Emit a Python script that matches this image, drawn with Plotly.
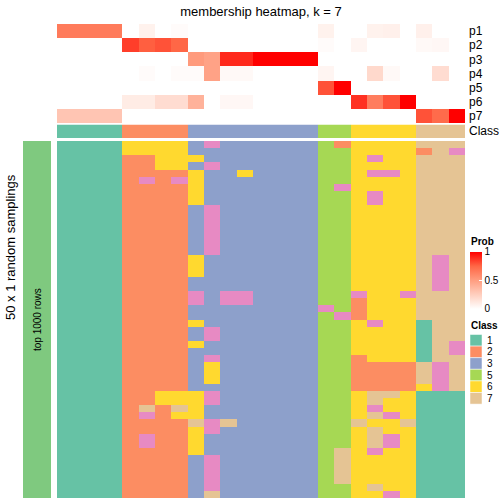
import plotly.graph_objects as go

# ---------------- data ----------------
columns = list(range(25))
prob_rows = ["p1", "p2", "p3", "p4", "p5", "p6", "p7"]
p1 = [0.66, 0.66, 0.66, 0.66, 0, 0.07, 0, 0.02, 0, 0, 0, 0, 0, 0, 0, 0, 0.07, 0, 0, 0.07, 0.08, 0, 0.08, 0, 0]
p2 = [0, 0, 0, 0, 0.85, 0.77, 0.8, 0.75, 0, 0, 0, 0, 0, 0, 0, 0, 0.02, 0, 0.05, 0, 0, 0, 0.03, 0.04, 0]
p3 = [0, 0, 0, 0, 0, 0, 0, 0, 0.52, 0.48, 0.9, 0.9, 1, 1, 1, 1, 0, 0, 0, 0, 0, 0, 0, 0, 0]
p4 = [0, 0, 0, 0, 0, 0.02, 0, 0.02, 0.02, 0.48, 0.03, 0.03, 0, 0, 0, 0, 0.05, 0, 0, 0.2, 0.03, 0, 0, 0.18, 0]
p5 = [0, 0, 0, 0, 0, 0, 0, 0, 0, 0, 0, 0, 0, 0, 0, 0, 0.8, 1, 0, 0, 0, 0, 0, 0, 0]
p6 = [0, 0, 0, 0, 0.1, 0.1, 0.18, 0.18, 0.4, 0, 0.04, 0.04, 0, 0, 0, 0, 0, 0, 0.88, 0.65, 0.8, 1, 0, 0, 0]
p7 = [0.3, 0.3, 0.3, 0.3, 0, 0, 0, 0, 0, 0, 0, 0, 0, 0, 0, 0, 0, 0, 0, 0, 0, 0, 0.8, 0.73, 1]

class_row = [1, 1, 1, 1, 2, 2, 2, 2, 3, 3, 3, 3, 3, 3, 3, 3, 5, 5, 6, 6, 6, 6, 7, 7, 7]

# 50 random samplings x 25 columns, class labels per cell
samplings = [
    "1111666634333333526666777",
    "1111666633333333556666274",
    "1111226663333333556466777",
    "1111226634333333556666777",
    "1111222263363333556446777",
    "1111242463333333556666777",
    "1111222263333333546666777",
    "1111222263333333556466777",
    "1111222263333333556466777",
    "1111222234333333556666777",
    "1111222234333333556666777",
    "1111222234333333556666777",
    "1111222234333333556666777",
    "1111222234333333556666777",
    "1111222234333333556666777",
    "1111222234333333556666777",
    "1111222263333333556666747",
    "1111222263333333556666747",
    "1111222263333333556666747",
    "1111222233333333556666747",
    "1111222233333333556666747",
    "1111222243443333554664777",
    "1111222243443333552666777",
    "1111222233333333452666777",
    "1111222233333333542666777",
    "1111222263333333556466177",
    "1111222234333333556666177",
    "1111222234333333556666177",
    "1111222263333333556666174",
    "1111222233333333556666174",
    "1111222234333333552666177",
    "1111222236333333552222747",
    "1111222236333333552222747",
    "1111222236333333552222747",
    "1111222233333333552222647",
    "1111226664333333556776111",
    "1111226664333333556766111",
    "1111272763333333556466111",
    "1111242663333333556746111",
    "1111222274733333557667111",
    "1111222264333333556766111",
    "1111242263333333556746111",
    "1111242263333333556746111",
    "1111222263333333576466111",
    "1111222234333333576666111",
    "1111222234333333576666111",
    "1111222234333333576666111",
    "1111222234333333576666111",
    "1111222234333333556766111",
    "1111222237333333556646111",
]
legend_classes = ["1", "2", "3", "5", "6", "7"]

class_colors = {1: "#66C2A5", 2: "#FC8D62", 3: "#8DA0CB", 4: "#E78AC3",
                5: "#A6D854", 6: "#FFD92F", 7: "#E5C494"}

# ---------------- figure ----------------
W = H = 504
FONT = "Liberation Sans, Arial, sans-serif"


def py(v):
    return 1 - v / H


def px(v):
    return v / W


# discrete colorscale for classes 1..7
cls_scale = []
for k in range(1, 8):
    cls_scale.append([(k - 1) / 7, class_colors[k]])
    cls_scale.append([k / 7, class_colors[k]])

prob_scale = [[0, "#FFFFFF"], [0.25, "rgb(255,207,191)"], [0.5, "rgb(255,158,129)"],
              [0.75, "rgb(255,103,70)"], [1, "#FF0000"]]

z_main = [[int(c) for c in r] for r in samplings]
fig = go.Figure()

fig.add_trace(go.Heatmap(
    z=[p1, p2, p3, p4, p5, p6, p7], x=columns, y=prob_rows,
    xaxis="x", yaxis="y2", colorscale=prob_scale, zmin=0, zmax=1,
    hoverinfo="skip",
    colorbar=dict(x=px(470), xanchor="left", y=py(280), yanchor="middle",
                  len=57, lenmode="pixels", thickness=12, thicknessmode="pixels",
                  xpad=0, ypad=0, outlinewidth=0,
                  tickvals=[0, 0.5, 1], ticktext=["0", "0.5", "1"],
                  ticks="inside", tickcolor="white", ticklen=3,
                  tickfont=dict(size=10, family=FONT, color="black")),
))
fig.add_trace(go.Heatmap(
    z=[class_row], x=columns, y=["Class"], xaxis="x", yaxis="y3",
    colorscale=cls_scale, zmin=0.5, zmax=7.5, showscale=False, hoverinfo="skip",
))
fig.add_trace(go.Heatmap(
    z=z_main, x=columns, y=list(range(len(samplings))), xaxis="x", yaxis="y",
    colorscale=cls_scale, zmin=0.5, zmax=7.5, showscale=False, hoverinfo="skip",
))
fig.add_trace(go.Heatmap(
    z=[[1]], x=[0], y=[0], xaxis="x2", yaxis="y4",
    colorscale=[[0, "#7FC97F"], [1, "#7FC97F"]], showscale=False, hoverinfo="skip",
))

noax = dict(showgrid=False, zeroline=False, showticklabels=False, ticks="", showline=False)
fig.update_layout(
    width=W, height=H, margin=dict(l=0, r=0, t=0, b=0),
    paper_bgcolor="white", plot_bgcolor="white",
    font=dict(family=FONT, color="black"),
    xaxis=dict(domain=[px(57), px(465)], range=[-0.5, 24.5], anchor="y", **noax),
    xaxis2=dict(domain=[px(23), px(51)], range=[-0.5, 0.5], anchor="y4", **noax),
    yaxis=dict(domain=[py(498), py(141)], range=[49.5, -0.5], anchor="x", **noax),
    yaxis4=dict(domain=[py(498), py(141)], range=[-0.5, 0.5], anchor="x2", **noax),
    yaxis2=dict(domain=[py(123.3), py(24)], anchor="x", autorange="reversed",
                side="right", showgrid=False, zeroline=False, ticks="",
                ticklabelstandoff=3, tickfont=dict(size=12, family=FONT, color="black")),
    yaxis3=dict(domain=[py(138), py(124.5)], anchor="x", side="right",
                showgrid=False, zeroline=False, ticks="", ticklabelstandoff=3,
                tickfont=dict(size=12, family=FONT, color="black")),
    title=dict(text="membership heatmap, k = 7", x=px(261), xanchor="center",
               y=py(11), yanchor="middle", font=dict(size=13, family=FONT, color="black")),
    showlegend=False,
)

ann = [
    dict(text="50 x 1 random samplings", x=px(10), y=py(247), textangle=-90,
         font=dict(size=13)),
    dict(text="top 1000 rows", x=px(37), y=py(320), textangle=-90, font=dict(size=10)),
    dict(text="<b>Prob</b>", x=px(469), y=py(241), xanchor="left", font=dict(size=10)),
    dict(text="<b>Class</b>", x=px(469), y=py(325), xanchor="left", font=dict(size=10)),
]
shapes = []
top = 334.5
step = 11.6
for i, lab in enumerate(legend_classes):
    y0 = top + i * step
    shapes.append(dict(type="rect", xref="paper", yref="paper",
                       x0=px(470), x1=px(482), y0=py(y0 + step), y1=py(y0),
                       fillcolor=class_colors[int(lab)], line=dict(color="white", width=0.5)))
    ann.append(dict(text=lab, x=px(485), y=py(y0 + step / 2), xanchor="left",
                    font=dict(size=10)))
for a in ann:
    a.setdefault("xanchor", "center")
    a.setdefault("yanchor", "middle")
    a.update(xref="paper", yref="paper", showarrow=False)
fig.update_layout(annotations=ann, shapes=shapes)

fig.write_html("out.html", config={"displayModeBar": False},
               post_script="document.body.style.margin='0';")
